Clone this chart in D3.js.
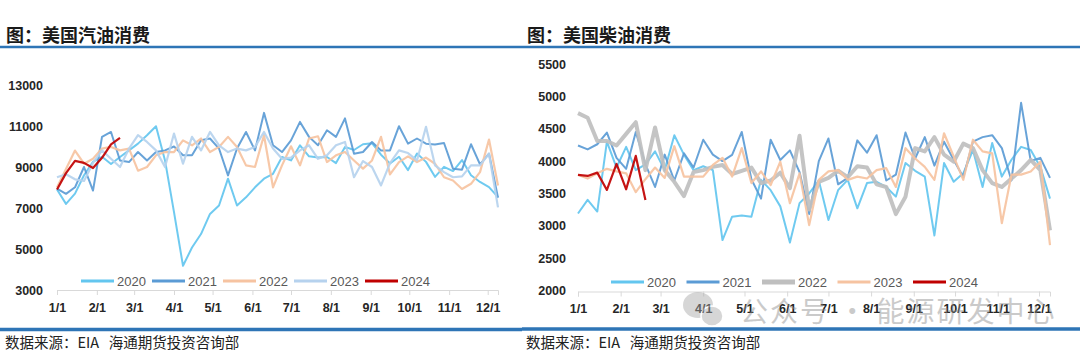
<!DOCTYPE html>
<html>
<head>
<meta charset="utf-8">
<script src="https://cdn.jsdelivr.net/npm/d3@7"></script>
<style>
  body { margin: 0; background: #fff; }
  svg { display: block; font-family: "Noto Sans CJK SC", sans-serif; }
  .tick text { font-family: Arial, "Liberation Sans", sans-serif; font-weight: bold; font-size: 12.5px; fill: #262626; }
</style>
</head>
<body>
<svg id="chart" width="1080" height="351"></svg>
<script>
// series labels and tick labels
const years = ["2020", "2021", "2022", "2023", "2024"];
const monthTicks = ["1/1", "2/1", "3/1", "4/1", "5/1", "6/1", "7/1", "8/1", "9/1", "10/1", "11/1", "12/1"];
const gasTicks = [3000, 5000, 7000, 9000, 11000, 13000];
const dieselTicks = [2000, 2500, 3000, 3500, 4000, 4500, 5000, 5500];

// US gasoline consumption, weekly
const gas2020 = [7900,7200,7700,8600,9250,9500,9150,9490,9810,10140, 10550,10990,9320,6800,4180,5070,5730,6710,7120,8430, 7120,7520,8010,8430,8670,9490,9320,10060,9520,9460, 9490,9190,9980,9830,10110,10160,9600,9170,9500,8850, 9660,9250,8520,9010,8800,9340,8600,8270,8020,7530];
const gas2021 = [7940,7690,8010,9000,7850,10470,10710,9320,9240,9730, 9320,9730,9810,10000,9570,9570,10300,10390,9900,8590, 9900,10710,9810,11640,10060,9730,10300,11200,10470,10060, 10790,10470,11370,9650,9730,10220,9810,9810,10990,10140, 10390,10140,10100,10170,8920,8870,10110,9130,9650,7500];
const gas2022 = [8000,8900,9800,9160,9400,9900,9980,9810,9900,8820, 9000,9570,9730,9730,10300,10060,10390,9730,9980,10470, 9980,9080,9000,10550,8010,9080,10010,9080,10390,10500, 9240,9570,9730,9320,8920,9320,10470,8640,9240,9520, 9240,9460,9160,8500,8340,7930,8180,8750,10340,8100];
const gas2023 = [8500,8650,8400,8320,9200,9810,9400,9000,9900,10550, 10220,9810,9000,10630,9160,10470,9810,10710,10060,9730, 9900,9810,9980,10710,9900,9400,9460,9810,10060,9400, 9570,10060,10220,8500,9290,9000,8100,9190,9810,9680, 9320,10960,9080,8750,8500,8540,9080,9080,9650,7030];
const gas2024 = [7900,8700,9300,9200,8950,9450,10100,10420];

// US diesel consumption, weekly
const diesel2020 = [3190,3400,3220,4300,3900,4220,3860,3950,4150,3860, 4400,4100,3860,3920,3860,2780,3140,3160,3140,3710, 3550,3300,2740,3350,3500,3700,3090,3550,3710,3270, 3660,3680,3600,3450,3970,3850,3760,2850,3970,3680, 3810,4170,3600,4280,3760,4020,4220,4170,3910,3420];
const diesel2021 = [4240,4180,4260,4440,4050,3880,4450,3950,3600,4100, 3700,4120,3900,4330,4100,4000,4095,4450,3720,3420, 4330,4016,4165,3830,3180,4000,4350,3640,3740,4320, 4130,4400,3700,3790,4440,4040,4370,3930,4300,4020, 3750,4300,4370,4400,4200,3700,4900,4000,4050,3740];
const diesel2022 = [4740,4670,4310,4310,4240,4420,4600,3860,4520,3860, 3680,3460,3830,3860,3910,3940,3800,3850,3900,3660, 3700,3820,3580,4390,3250,3680,3740,3850,3750,3920, 3900,3640,3600,3180,3450,4200,4150,4370,4100,3990, 4270,4200,3860,3660,3600,3730,3860,4020,3860,2930];
const diesel2023 = [3790,3730,3810,3880,3840,3810,3520,3720,3900,3740, 4230,3760,3760,3760,3940,4050,3760,4200,3660,3840, 3630,3990,3350,3810,3010,3710,3840,3860,3710,3760, 3730,3860,3890,3600,4200,4040,3910,3710,4430,4070, 3710,4330,4150,4120,3040,3790,3790,3840,3990,2700];
const diesel2024 = [3786,3770,3822,3554,3956,3564,4080,3399];

const svg = d3.select("#chart");
const parseTick = d3.timeParse("%Y-%m/%d");
const yearStart = new Date(2024, 0, 1);
const yearEnd = new Date(2024, 11, 9);

function drawPanel(p) {
    const g = svg.append("g");

    const x = d3.scaleTime().domain([yearStart, yearEnd]).range([p.left, p.right]);
    const y = d3.scaleLinear().domain(p.yDomain).range([p.bottom, p.top]);

    // title
    g.append("text")
        .attr("x", p.left0 + 6).attr("y", 42)
        .style("font-size", "18px").style("font-weight", "bold").style("fill", "#1a1a1a")
        .text(p.title);

    // y labels
    const yAxis = g.append("g")
        .attr("transform", `translate(${p.yLabelX}, 0)`)
        .call(d3.axisLeft(y).tickValues(p.yTicks).tickFormat(d3.format("d")).tickSize(0).tickPadding(0));
    yAxis.select(".domain").remove();

    // x axis
    const tickDates = monthTicks.map(t => parseTick("2024-" + t));
    const xAxis = g.append("g")
        .attr("transform", `translate(0, ${p.axisY})`)
        .call(d3.axisBottom(x).tickValues(tickDates).tickFormat(d3.timeFormat("%-m/%-d")).tickSize(5).tickSizeOuter(5).tickPadding(8));
    xAxis.selectAll("line, path").attr("stroke", "#d9d9d9");

    // lines
    const line = d3.line()
        .x((d, i) => x(d3.timeDay.offset(yearStart, 7 * i)))
        .y(d => y(d));

    p.series.forEach((s, k) => {
        g.append("path")
            .datum(s)
            .attr("fill", "none")
            .attr("stroke", p.colors[k])
            .attr("stroke-width", p.widths[k])
            .attr("stroke-linejoin", "round")
            .attr("opacity", 0.92)
            .attr("d", line);
    });

    // legend
    const leg = g.append("g").attr("transform", `translate(${p.legendX}, ${p.legendY})`);
    years.forEach((yr, k) => {
        const item = leg.append("g").attr("transform", `translate(${k * p.legendStep}, 0)`);
        item.append("line")
            .attr("x1", 0).attr("x2", 33).attr("y1", 0).attr("y2", 0)
            .attr("stroke", p.colors[k]).attr("stroke-width", p.widths[k] + 1);
        item.append("text")
            .attr("x", 36).attr("y", 4.5)
            .style("font-family", "Arial, 'Liberation Sans', sans-serif")
            .style("font-size", "13px").style("fill", "#595959")
            .text(yr);
    });

    // source
    g.append("text")
        .attr("x", p.left0 + 5).attr("y", 348)
        .style("font-size", "14.5px").style("fill", "#222")
        .attr("xml:space", "preserve")
        .text("数据来源：EIA   海通期货投资咨询部");
}

// blue rules
svg.append("line").attr("x1", 0).attr("x2", 1080).attr("y1", 47).attr("y2", 47)
    .attr("stroke", "#2e75b6").attr("stroke-width", 2.5);
svg.append("line").attr("x1", 0).attr("x2", 522).attr("y1", 329.5).attr("y2", 329.5)
    .attr("stroke", "#2e75b6").attr("stroke-width", 3.5);
svg.append("line").attr("x1", 522).attr("x2", 1080).attr("y1", 329).attr("y2", 329)
    .attr("stroke", "#2e75b6").attr("stroke-width", 3.5);

drawPanel({
    title: "图：美国汽油消费",
    left0: 0,
    left: 57, right: 498, top: 85, bottom: 290, axisY: 290,
    yDomain: [3000, 13000], yTicks: gasTicks, yLabelX: 43,
    series: [gas2020, gas2021, gas2022, gas2023, gas2024],
    colors: ["#63c6ef", "#5b9bd5", "#f6c3a1", "#b6d2ee", "#c00000"],
    widths: [2, 2, 2.2, 2.2, 2.2],
    legendX: 81, legendY: 281, legendStep: 71
});

drawPanel({
    title: "图：美国柴油消费",
    left0: 521,
    left: 578, right: 1050, top: 64, bottom: 290.5, axisY: 291.5,
    yDomain: [2000, 5500], yTicks: dieselTicks, yLabelX: 566,
    series: [diesel2020, diesel2021, diesel2022, diesel2023, diesel2024],
    colors: ["#63c6ef", "#5b9bd5", "#bfbfbf", "#f6c3a1", "#c00000"],
    widths: [2, 2, 4, 2.2, 2.2],
    legendX: 611, legendY: 282, legendStep: 75.5
});

// watermark
const wm = svg.append("g").attr("opacity", 0.45);
wm.append("ellipse").attr("cx", 698).attr("cy", 305).attr("rx", 15).attr("ry", 13).attr("fill", "#a6a6a6");
wm.append("ellipse").attr("cx", 712).attr("cy", 316).attr("rx", 11).attr("ry", 10).attr("fill", "#a6a6a6").attr("stroke", "#fff").attr("stroke-width", 1.5);
wm.append("text")
    .attr("x", 740).attr("y", 322)
    .style("font-size", "28px").style("fill", "#8c8c8c").style("letter-spacing", "2px")
    .text("公众号 · 能源研发中心");
</script>
</body>
</html>
